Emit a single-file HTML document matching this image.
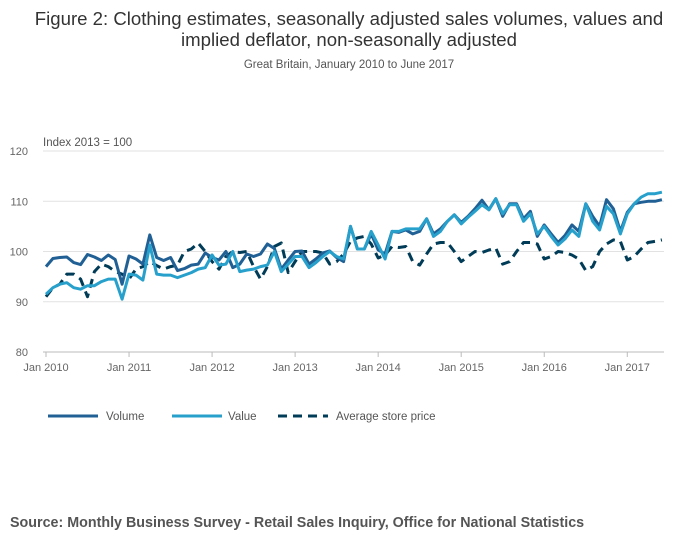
<!DOCTYPE html>
<html><head><meta charset="utf-8"><style>
body{margin:0;background:#fff;font-family:"Liberation Sans",sans-serif;}
#wrap{position:relative;width:700px;height:549px;overflow:hidden;}
</style></head><body>
<div id="wrap">
<svg id="chart" width="700" height="549">
<text x="349" y="25" text-anchor="middle" font-size="18.6" fill="#333">Figure 2: Clothing estimates, seasonally adjusted sales volumes, values and</text>
<text x="349" y="46" text-anchor="middle" font-size="18.6" fill="#333">implied deflator, non-seasonally adjusted</text>
<text x="349" y="68" text-anchor="middle" font-size="11.5" fill="#555">Great Britain, January 2010 to June 2017</text>
<text x="43" y="146" font-size="11.5" fill="#555">Index 2013 = 100</text>
<g id="grid"></g><g id="xaxis"></g><g id="series"></g>
<g>
<g><line x1="48" y1="416" x2="98" y2="416" stroke="#206095" stroke-width="3"/><text x="106" y="420" font-size="11.5" fill="#555">Volume</text></g>
<g><line x1="172" y1="416" x2="222" y2="416" stroke="#27a0cc" stroke-width="3"/><text x="228" y="420" font-size="11.5" fill="#555">Value</text></g>
<g><line x1="278" y1="416" x2="328" y2="416" stroke="#003c57" stroke-width="3" stroke-dasharray="9,6"/><text x="336" y="420" font-size="11.5" fill="#555">Average store price</text></g>
</g>
<text x="10" y="527" font-size="14.3" font-weight="bold" fill="#555">Source: Monthly Business Survey - Retail Sales Inquiry, Office for National Statistics</text>
</svg>
</div>
<script>
const yTicks=[80,90,100,110,120];
const xTickLabels=["Jan 2010","Jan 2011","Jan 2012","Jan 2013","Jan 2014","Jan 2015","Jan 2016","Jan 2017"];
const volume=[97,98.6,98.8,98.9,97.8,97.4,99.4,98.9,98.2,99.3,98.4,93.5,99.1,98.5,97.5,103.3,98.8,98.2,98.8,96.2,96.6,97.3,97.5,99.7,98.8,98.3,100,96.8,97.5,99.5,99,99.5,101.5,100.6,96.5,98.3,100,100.1,97.5,98.5,99.7,100.1,98.8,98,105,100.5,100.5,103.5,100.3,99.5,104,103.8,104.3,103.5,104,106.5,103.5,104.5,106,107.3,105.8,107,108.5,110.2,108.3,110.5,107,109.5,109.5,106.5,108,103,105.3,103.5,101.8,103.2,105.3,104,109.5,107,105,110.3,108.5,104,107.8,109.5,109.8,110,110,110.3];
const value=[91.5,92.8,93.5,93.8,92.8,92.5,93.2,93.2,94,94.5,94.5,90.5,95.5,95.3,94.3,101.3,95.5,95.3,95.3,94.8,95.3,95.8,96.5,96.8,99.3,97.3,97.5,100,96,96.3,96.5,97,97.3,100,96,97.5,99,99,96.8,97.8,99,100,99,98.5,105,100.5,100.5,104,101.3,98.5,104,104,104.5,104.5,104.5,106.5,103,104,106,107.3,105.5,106.8,108,109.3,108.3,110.5,107.5,109.3,109.3,106,107.5,103.5,105,103,101.3,102.5,104.3,103,109.5,106,104.3,109,107.5,103.5,107.5,109.5,110.8,111.5,111.5,111.8];
const price=[91,92.8,93.5,95.5,95.5,94.5,91,96,97.5,97,96,95.5,94.5,96.5,97,98,97.2,96.5,97,97.3,100,100.5,101.7,100,98,96.5,99,100,99.8,100,97,94.5,97,101,101.7,95.8,98,100,100,100,99.7,97.5,98,99.5,102,102.7,103,101.5,98.7,99.3,101,100.8,101,98,97.3,99.5,101.5,101.8,101.8,100,98,99,100,99.8,100.3,100.7,97.5,98,100,101.8,101.8,101.5,98.5,99,100,99.8,99.3,98.5,96.2,97,100,101.5,102.3,102,98.3,99,100.5,101.8,102,102.3];
const ns="http://www.w3.org/2000/svg";
const X0=46,DX=6.92;
function xs(i){return X0+i*DX;}
function ys(v){return 352-(v-80)*5.025;}
const grid=document.getElementById('grid');
yTicks.forEach(t=>{
 const l=document.createElementNS(ns,'line');
 l.setAttribute('x1',43);l.setAttribute('x2',664);l.setAttribute('y1',ys(t));l.setAttribute('y2',ys(t));
 l.setAttribute('stroke',t===80?'#bbb':'#e2e2e2');l.setAttribute('stroke-width',1);
 
 
 grid.appendChild(l);
 const tx=document.createElementNS(ns,'text');
 tx.setAttribute('x',28);tx.setAttribute('y',ys(t)+4);tx.setAttribute('font-size','11');tx.setAttribute('fill','#666');tx.setAttribute('text-anchor','end');
 tx.textContent=t;
 
 
 grid.appendChild(tx);
});
const xa=document.getElementById('xaxis');
xTickLabels.forEach((lab,k)=>{
 const x=xs(k*12);
 const l=document.createElementNS(ns,'line');
 l.setAttribute('x1',x);l.setAttribute('x2',x);l.setAttribute('y1',352);l.setAttribute('y2',357);l.setAttribute('stroke','#bbb');
 
 
 xa.appendChild(l);
 const tx=document.createElementNS(ns,'text');
 tx.setAttribute('x',x);tx.setAttribute('y',371);tx.setAttribute('font-size','11');tx.setAttribute('fill','#666');tx.setAttribute('text-anchor','middle');
 tx.textContent=lab;
 
 
 xa.appendChild(tx);
});
const sg=document.getElementById('series');
function draw(arr,color,dash,name){
 const p=document.createElementNS(ns,'path');
 p.setAttribute('d',arr.map((v,i)=>(i?'L':'M')+xs(i).toFixed(1)+','+ys(v).toFixed(1)).join(''));
 p.setAttribute('fill','none');p.setAttribute('stroke',color);p.setAttribute('stroke-width',3);p.setAttribute('stroke-linejoin','round');
 if(dash)p.setAttribute('stroke-dasharray',dash);
 
 
 sg.appendChild(p);
}
draw(price,'#003c57','9,6','line-average-store-price');
draw(volume,'#206095',null,'line-volume');
draw(value,'#27a0cc',null,'line-value');
</script>
</body></html>
